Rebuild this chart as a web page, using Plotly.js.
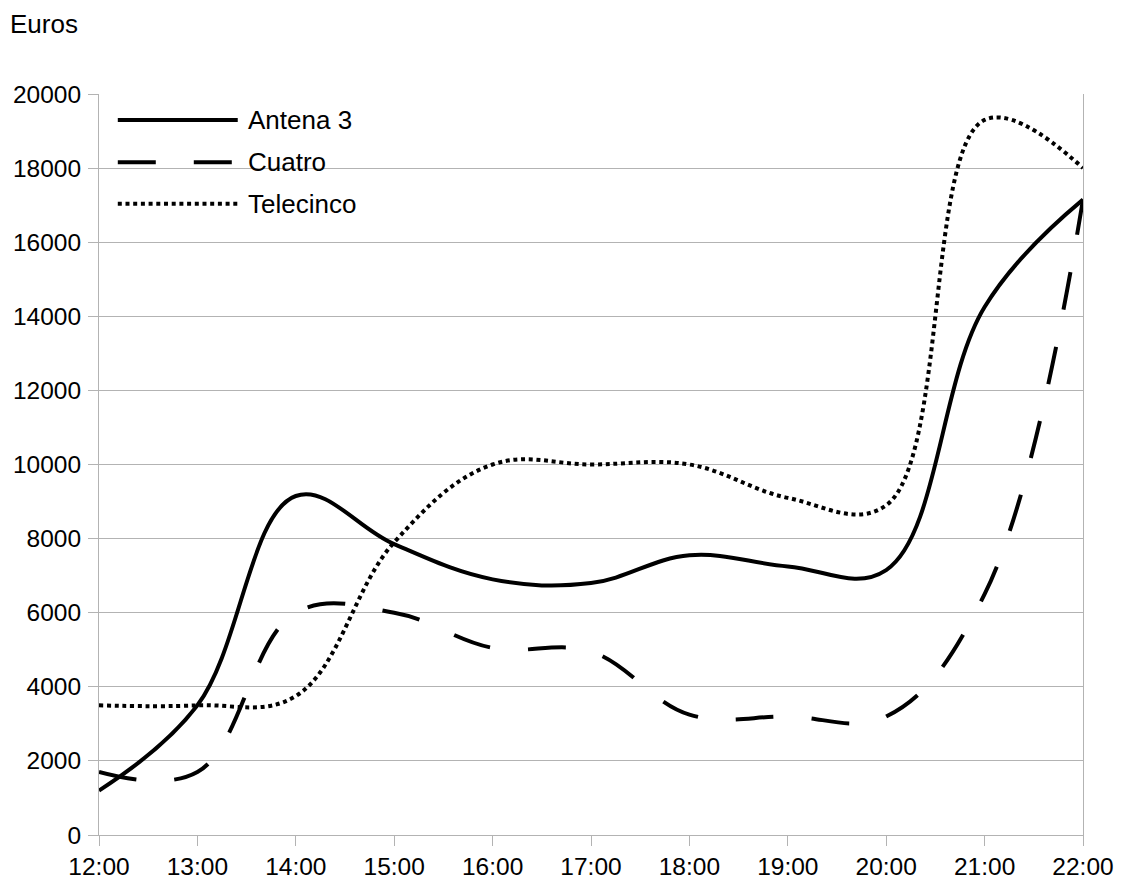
<!DOCTYPE html>
<html>
<head>
<meta charset="utf-8">
<script src="https://cdn.plot.ly/plotly-3.0.1.min.js"></script>
<style>
  html, body { margin: 0; padding: 0; background: #fff; }
  #chart { width: 1130px; height: 887px; }
</style>
</head>
<body>
<div id="chart"></div>
<script>
// Data
const hours = ["12:00","13:00","14:00","15:00","16:00","17:00","18:00","19:00","20:00","21:00","22:00"];
const antena3   = [1200, 3500, 9150, 7850, 6900, 6800, 7550, 7250, 7150, 14250, 17150];
const cuatro    = [1700, 1700, 6000, 6000, 5050, 4950, 3250, 3200, 3200, 6500, 17150];
const telecinco = [3500, 3500, 3750, 7900, 10000, 10000, 10000, 9100, 8900, 19300, 18000];
const seriesNames = ["Antena 3", "Cuatro", "Telecinco"];
const yTicks = [0, 2000, 4000, 6000, 8000, 10000, 12000, 14000, 16000, 18000, 20000];

const FONT = "Liberation Sans, Arial, sans-serif";
const TICK_SIZE = 24.5;
const TEXT_SIZE = 26;
const styles = [
  {color: "#000", width: 4, dash: "solid"},
  {color: "#000", width: 4, dash: "38px,38px"},
  {color: "#000", width: 4, dash: "4px,3.7px"}
];
const seriesData = [antena3, cuatro, telecinco];

const traces = seriesData.map((vals, i) => ({
  type: "scatter",
  mode: "lines",
  x: hours,
  y: vals,
  name: seriesNames[i],
  line: Object.assign({shape: "spline", smoothing: 1.1}, styles[i]),
  hoverinfo: "x+y+name",
  showlegend: false
}));

// custom legend (paper coordinates)
const legendY = [0.965, 0.908, 0.852];
const shapes = [];
const annotations = [];
seriesNames.forEach((n, i) => {
  shapes.push({
    type: "line", xref: "paper", yref: "paper",
    x0: 0.0191, x1: 0.1410, y0: legendY[i], y1: legendY[i],
    line: {color: styles[i].color, width: styles[i].width, dash: styles[i].dash}
  });
  annotations.push({
    xref: "paper", yref: "paper", x: 0.149, y: legendY[i],
    xanchor: "left", yanchor: "middle", showarrow: false,
    text: n, font: {family: FONT, size: TEXT_SIZE, color: "#000"}
  });
});
annotations.push({
  xref: "paper", yref: "paper", x: -0.092, y: 1.094,
  xanchor: "left", yanchor: "middle", showarrow: false,
  text: "Euros", font: {family: FONT, size: TEXT_SIZE, color: "#000"}
});

const layout = {
  width: 1130, height: 887,
  margin: {l: 99, r: 47, t: 94, b: 52, pad: 0},
  paper_bgcolor: "#fff", plot_bgcolor: "#fff",
  font: {family: FONT, size: TICK_SIZE, color: "#000"},
  showlegend: false,
  xaxis: {
    type: "category",
    range: [0, hours.length - 1],
    showgrid: false,
    zeroline: false,
    showline: true, linecolor: "#b3b3b3", linewidth: 1,
    ticks: "outside", ticklen: 10, tickcolor: "#b3b3b3", tickwidth: 1,
    tickfont: {family: FONT, size: TICK_SIZE, color: "#000"},
    fixedrange: true
  },
  yaxis: {
    range: [0, 20000],
    tickvals: yTicks,
    ticktext: yTicks.map(String),
    showgrid: true, gridcolor: "#b3b3b3", gridwidth: 1,
    zeroline: false,
    showline: true, linecolor: "#b3b3b3", linewidth: 1, mirror: true,
    ticks: "outside", ticklen: 10, tickcolor: "#b3b3b3", tickwidth: 1,
    ticklabelstandoff: 2,
    tickfont: {family: FONT, size: TICK_SIZE, color: "#000"},
    fixedrange: true
  },
  shapes: shapes,
  annotations: annotations
};

Plotly.newPlot("chart", traces, layout, {displayModeBar: false, staticPlot: true});
</script>
</body>
</html>
